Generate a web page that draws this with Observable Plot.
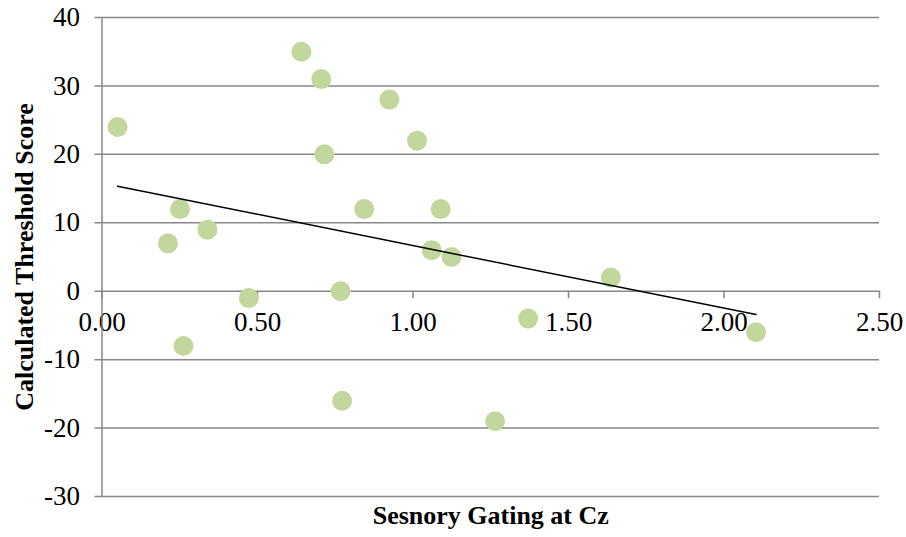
<!DOCTYPE html>
<html>
<head>
<meta charset="utf-8">
<script src="https://cdn.jsdelivr.net/npm/d3@7"></script>
<script src="https://cdn.jsdelivr.net/npm/@observablehq/plot@0.6"></script>
<style>
  html, body { margin: 0; padding: 0; background: #fff; }
  #chart svg { display: block; }
  #chart svg text { font-family: "Liberation Serif", "Times New Roman", Times, serif; }
</style>
</head>
<body>
<div id="chart"></div>
<script>
// Sensory gating at Cz (x) vs calculated threshold score (y)
const gatingCz = [0.05, 0.641, 0.705, 0.924, 1.013, 0.715, 0.251, 0.843, 1.089, 0.212, 0.339,
                  1.06, 1.124, 0.472, 0.767, 0.262, 0.772, 1.636, 1.37, 2.103, 1.264];
const thresholdScore = [24, 35, 31, 28, 22, 20, 12, 12, 12, 7, 9,
                        6, 5, -1, 0, -8, -16, 2, -4, -6, -19];
const xTicks = [0, 0.5, 1, 1.5, 2, 2.5];
const yTicks = [-30, -20, -10, 0, 10, 20, 30, 40];
const xTitle = "Sesnory Gating at Cz";
const yTitle = "Calculated Threshold Score";

const data = gatingCz.map((x, i) => ({x, y: thresholdScore[i]}));

const gridColor = "#878787";
const serif = "Liberation Serif";

const chart = Plot.plot({
  width: 906,
  height: 537,
  marginLeft: 101.5,
  marginRight: 27,
  marginTop: 17,
  marginBottom: 41,
  style: {fontFamily: serif, color: "black", background: "white"},
  x: {domain: [0, 2.5], axis: null},
  y: {domain: [-30, 40], axis: null},
  marks: [
    Plot.ruleY(yTicks, {y: d => d, stroke: gridColor, strokeWidth: 1.5, insetLeft: -7}),
    Plot.text(yTicks, {x: 0, y: d => d, text: d => String(d), textAnchor: "end", dx: -22, fontSize: 27, fontFamily: serif, fill: "black"}),
    Plot.text(xTicks, {x: d => d, y: 0, text: d => d.toFixed(2), dy: 31, fontSize: 27, fontFamily: serif, fill: "black"}),
    Plot.ruleX([0], {x: d => d, stroke: gridColor, strokeWidth: 1.5}),
    Plot.ruleX(xTicks, {x: d => d, y1: 0, y2: -1.1, stroke: gridColor, strokeWidth: 1.5}),
    Plot.dot(data, {x: "x", y: "y", r: 10, fill: "#c3d69b", stroke: null}),
    Plot.linearRegressionY(data, {x: "x", y: "y", stroke: "black", strokeWidth: 1.5, ci: 0}),
    Plot.text([xTitle], {frameAnchor: "bottom", lineAnchor: "middle", textAnchor: "middle", dy: 19.5, fontSize: 26, fontWeight: "bold", fontFamily: serif, fill: "black"}),
    Plot.text([yTitle], {frameAnchor: "left", lineAnchor: "middle", textAnchor: "middle", rotate: -90, dx: -77, fontSize: 26, fontWeight: "bold", fontFamily: serif, fill: "black"})
  ]
});
document.getElementById("chart").appendChild(chart);
</script>
</body>
</html>
